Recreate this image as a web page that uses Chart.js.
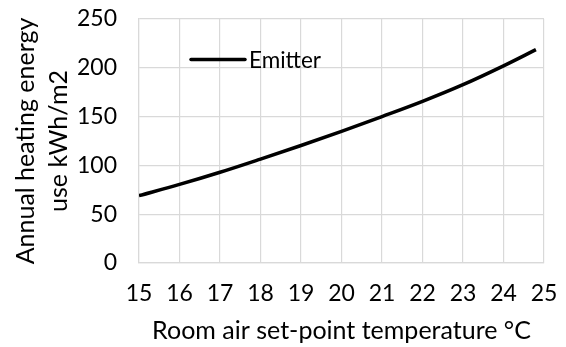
<!DOCTYPE html>
<html>
<head>
<meta charset="utf-8">
<script src="https://cdn.jsdelivr.net/npm/chart.js@4/dist/chart.umd.min.js"></script>
<style>
  html, body { margin: 0; padding: 0; background: #fff; }
  #wrap { width: 566px; height: 347px; position: relative; }
</style>
</head>
<body>
<div id="wrap"><canvas id="c"></canvas></div>
<script>
const temperatures = [15, 16, 17, 18, 19, 20, 21, 22, 23, 24, 24.8];
const emitterEnergy = [69, 80.5, 93, 106.5, 120.4, 134.8, 150, 165.6, 182.7, 202, 218.6];
const seriesLabel = 'Emitter';
const xTitle = 'Room air set-point temperature °C';
const yTitle = ['Annual heating energy', 'use kWh/m2'];

const FONT = 'Lato, "Open Sans", sans-serif';
const GRID = '#d9d9d9';

const insideLegend = {
  id: 'insideLegend',
  afterDraw(chart) {
    const ctx = chart.ctx;
    const a = chart.chartArea;
    const ds = chart.data.datasets[0];
    const x0 = a.left + 52, x1 = a.left + 106, y = a.top + 40.5;
    ctx.save();
    ctx.strokeStyle = ds.borderColor;
    ctx.lineWidth = ds.borderWidth;
    ctx.lineCap = 'round';
    ctx.beginPath(); ctx.moveTo(x0, y); ctx.lineTo(x1, y); ctx.stroke();
    ctx.fillStyle = '#000';
    ctx.font = '22.5px ' + FONT;
    ctx.textBaseline = 'middle';
    ctx.textAlign = 'left';
    ctx.fillText(ds.label, x1 + 4, y + 1);
    ctx.restore();
  }
};

new Chart(document.getElementById('c'), {
  type: 'line',
  data: {
    datasets: [{
      label: seriesLabel,
      data: temperatures.map((t, i) => ({ x: t, y: emitterEnergy[i] })),
      borderColor: '#000',
      borderWidth: 3.5,
      pointRadius: 0,
      cubicInterpolationMode: 'monotone',
      fill: false
    }]
  },
  options: {
    responsive: true,
    maintainAspectRatio: false,
    animation: false,
    devicePixelRatio: 1,
    layout: { padding: { top: 19, right: 22, bottom: 0, left: 0 } },
    plugins: { legend: { display: false }, tooltip: { enabled: false } },
    scales: {
      x: {
        type: 'linear',
        min: 15, max: 25,
        ticks: { stepSize: 1, color: '#000', font: { family: FONT, size: 23 }, padding: 17, maxRotation: 0 },
        grid: { color: GRID, lineWidth: 1.2, drawTicks: false },
        border: { color: GRID, width: 1.2 },
        title: { display: true, text: xTitle, color: '#000', font: { family: FONT, size: 25 }, padding: { top: 0, bottom: 1 } },
        afterFit(s) { s.height = 84; s.paddingLeft = 0; s.paddingRight = 0; }
      },
      y: {
        min: 0, max: 250,
        ticks: { stepSize: 50, color: '#000', font: { family: FONT, size: 23 }, padding: 22 },
        grid: { color: GRID, lineWidth: 1.2, drawTicks: false },
        border: { color: GRID, width: 1.2 },
        title: { display: true, text: yTitle, color: '#000', font: { family: FONT, size: 25, lineHeight: 1.34 }, padding: { top: 9, bottom: 0 } },
        afterFit(s) { s.width = 139; s.paddingTop = 0; s.paddingBottom = 0; }
      }
    }
  },
  plugins: [insideLegend]
});
</script>
</body>
</html>
